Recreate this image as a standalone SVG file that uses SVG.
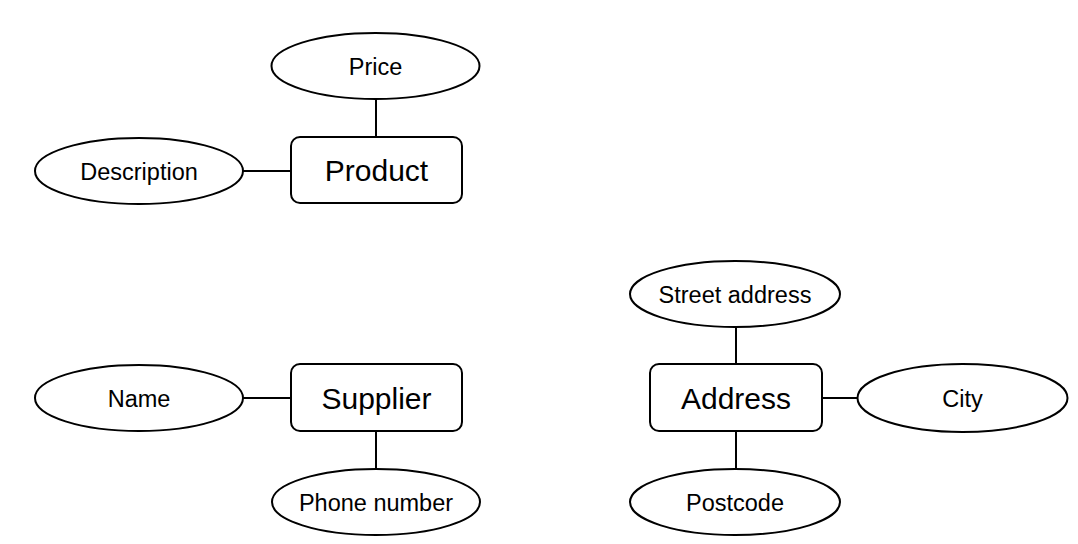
<svg xmlns="http://www.w3.org/2000/svg" width="1078" height="544" viewBox="0 0 1078 544">
<style>
.ent rect{fill:#fff;stroke:#000;stroke-width:2}
.att ellipse{fill:#fff;stroke:#000;stroke-width:2}
.ent text{font-family:"Liberation Sans",Arial,sans-serif;font-size:30px;text-anchor:middle;fill:#000}
.att text{font-family:"Liberation Sans",Arial,sans-serif;font-size:23.5px;text-anchor:middle;fill:#000}
.links line{stroke:#000;stroke-width:2}
</style>
<rect width="1078" height="544" fill="#fff"/>
<g class="links">
<line x1="376" y1="99" x2="376" y2="137"/>
<line x1="243" y1="171" x2="291" y2="171"/>
<line x1="243" y1="398" x2="291" y2="398"/>
<line x1="376" y1="431" x2="376" y2="469"/>
<line x1="736" y1="327" x2="736" y2="364"/>
<line x1="822" y1="398" x2="857" y2="398"/>
<line x1="736" y1="431" x2="736" y2="469"/>
</g>
<g id="product" class="ent"><rect x="291" y="137" width="171" height="66" rx="9"/><text x="376.5" y="181">Product</text></g>
<g id="price" class="att"><ellipse cx="375.5" cy="66" rx="104" ry="33"/><text x="375.5" y="74.5">Price</text></g>
<g id="description" class="att"><ellipse cx="139" cy="171" rx="104" ry="33"/><text x="139" y="179.5">Description</text></g>
<g id="supplier" class="ent"><rect x="291" y="364" width="171" height="67" rx="9"/><text x="376.5" y="409">Supplier</text></g>
<g id="name" class="att"><ellipse cx="139" cy="398" rx="104" ry="33"/><text x="139" y="406.5">Name</text></g>
<g id="phone" class="att"><ellipse cx="376" cy="502" rx="104" ry="33"/><text x="376" y="510.5">Phone number</text></g>
<g id="address" class="ent"><rect x="650" y="364" width="172" height="67" rx="9"/><text x="736" y="409">Address</text></g>
<g id="street" class="att"><ellipse cx="735" cy="294" rx="105" ry="33"/><text x="735" y="302.5">Street address</text></g>
<g id="city" class="att"><ellipse cx="962.5" cy="398" rx="105" ry="34"/><text x="962.5" y="406.5">City</text></g>
<g id="postcode" class="att"><ellipse cx="735" cy="502" rx="105" ry="33"/><text x="735" y="510.5">Postcode</text></g>
</svg>
